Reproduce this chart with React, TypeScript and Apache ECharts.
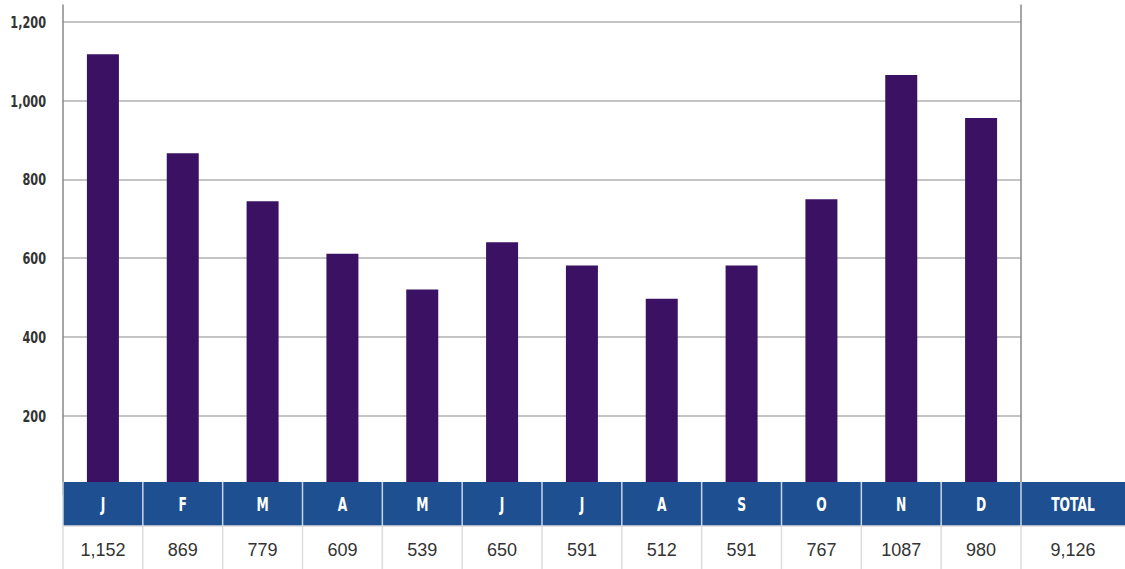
import React, { useEffect, useRef } from "react";
import * as echarts from "echarts";

const months = ["J", "F", "M", "A", "M", "J", "J", "A", "S", "O", "N", "D"];
const barValues = [1118, 866, 744, 611, 520, 640, 581, 496, 581, 749, 1065, 956];
const tableValues = ["1,152", "869", "779", "609", "539", "650", "591", "512", "591", "767", "1087", "980"];
const totalHeader = "TOTAL";
const totalValue = "9,126";
const yTickValues = [200, 400, 600, 800, 1000, 1200];
const yMax = 1243;
const yInterval = 200;

const W = 1125;
const H = 569;
const gridL = 63;
const gridR = 1021;
const gridTop = 5;
const gridBottom = 75;
const bandTop = 482;
const bandH = 44;
const rowTop = bandTop + bandH;
const rowH = H - rowTop;

const blue = "#1d4f91";
const barColor = "#3b1163";
const condensed = "'Liberation Sans Narrow', 'DejaVu Sans Condensed', 'Roboto', sans-serif";
const regular = "'Liberation Sans', Arial, sans-serif";

export default function App() {
  const ref = useRef<HTMLDivElement>(null);
  useEffect(() => {
    if (!ref.current) return;
    const chart = echarts.init(ref.current, null, { renderer: "svg" });

    chart.setOption({
      animation: false,
      backgroundColor: "#ffffff",
      grid: {
        left: gridL,
        right: W - gridR,
        top: gridTop,
        bottom: gridBottom,
        containLabel: false,
        outerBoundsMode: "none",
      },
      xAxis: {
        type: "category",
        data: months,
        axisLine: { show: false },
        axisTick: { show: false },
        axisLabel: { show: false },
        splitLine: { show: false },
      },
      yAxis: [
        {
          type: "value",
          min: 0,
          max: yMax,
          interval: yInterval,
          position: "left",
          axisLine: { show: true, lineStyle: { color: "#888888", width: 1.5 } },
          axisTick: { show: false },
          axisLabel: { show: false },
          splitLine: {
            show: true,
            showMinLine: false,
            showMaxLine: false,
            lineStyle: { color: "#b0b0b0", width: 1.5 },
          },
        },
        {
          type: "value",
          min: 0,
          max: yMax,
          interval: yInterval,
          position: "right",
          axisLine: { show: true, lineStyle: { color: "#888888", width: 1.5 } },
          axisTick: { show: false },
          axisLabel: { show: false },
          splitLine: { show: false },
        },
      ],
      series: [
        {
          type: "bar",
          data: barValues,
          barWidth: 32,
          itemStyle: { color: barColor },
          yAxisIndex: 0,
        },
      ],
    });

    const graphics: any[] = [];
    // y-axis tick labels, placed through the axis scale
    yTickValues.forEach((v) => {
      const py = chart.convertToPixel({ yAxisIndex: 0 }, v) as number;
      graphics.push({
        type: "text",
        z: 102,
        x: gridL - 17,
        y: py,
        scaleX: 0.76,
        style: {
          text: v.toLocaleString("en-US"),
          fill: "#333333",
          font: `bold 16.5px ${condensed}`,
          align: "right",
          verticalAlign: "middle",
        },
      });
    });

    const colW = (gridR - gridL) / 12;
    const cols = months.map((m, i) => ({ x: gridL + i * colW, w: colW, head: m, val: tableValues[i] }));
    cols.push({ x: gridR, w: W - gridR, head: totalHeader, val: totalValue });
    cols.forEach((c) => {
      graphics.push({
        type: "rect",
        z: 100,
        shape: { x: c.x, y: bandTop, width: c.w, height: bandH },
        style: { fill: blue },
      });
      graphics.push({
        type: "text",
        z: 102,
        x: c.x + c.w / 2,
        y: bandTop + bandH / 2 + 1,
        scaleX: 0.72,
        style: {
          text: c.head,
          fill: "#ffffff",
          font: `bold 19px ${condensed}`,
          align: "center",
          verticalAlign: "middle",
        },
      });
      graphics.push({
        type: "text",
        z: 102,
        x: c.x + c.w / 2,
        y: rowTop + rowH / 2 + 2,
        style: {
          text: c.val,
          fill: "#333333",
          font: `18px ${regular}`,
          align: "center",
          verticalAlign: "middle",
        },
      });
      graphics.push({
        type: "line",
        z: 101,
        shape: { x1: c.x, y1: bandTop, x2: c.x, y2: bandTop + bandH },
        style: { stroke: "#c9d4e6", lineWidth: 1.5 },
      });
      graphics.push({
        type: "line",
        z: 101,
        shape: { x1: c.x, y1: rowTop, x2: c.x, y2: H },
        style: { stroke: "#dddddd", lineWidth: 1.5 },
      });
    });
    graphics.push({
      type: "line",
      z: 101,
      shape: { x1: gridL, y1: rowTop, x2: W, y2: rowTop },
      style: { stroke: "#dddddd", lineWidth: 1.5 },
    });

    chart.setOption({ graphic: { elements: graphics } });
    return () => chart.dispose();
  }, []);
  return (
    <div
      ref={ref}
      style={{ position: "fixed", left: 0, top: 0, width: W, height: H, background: "#fff" }}
    />
  );
}
